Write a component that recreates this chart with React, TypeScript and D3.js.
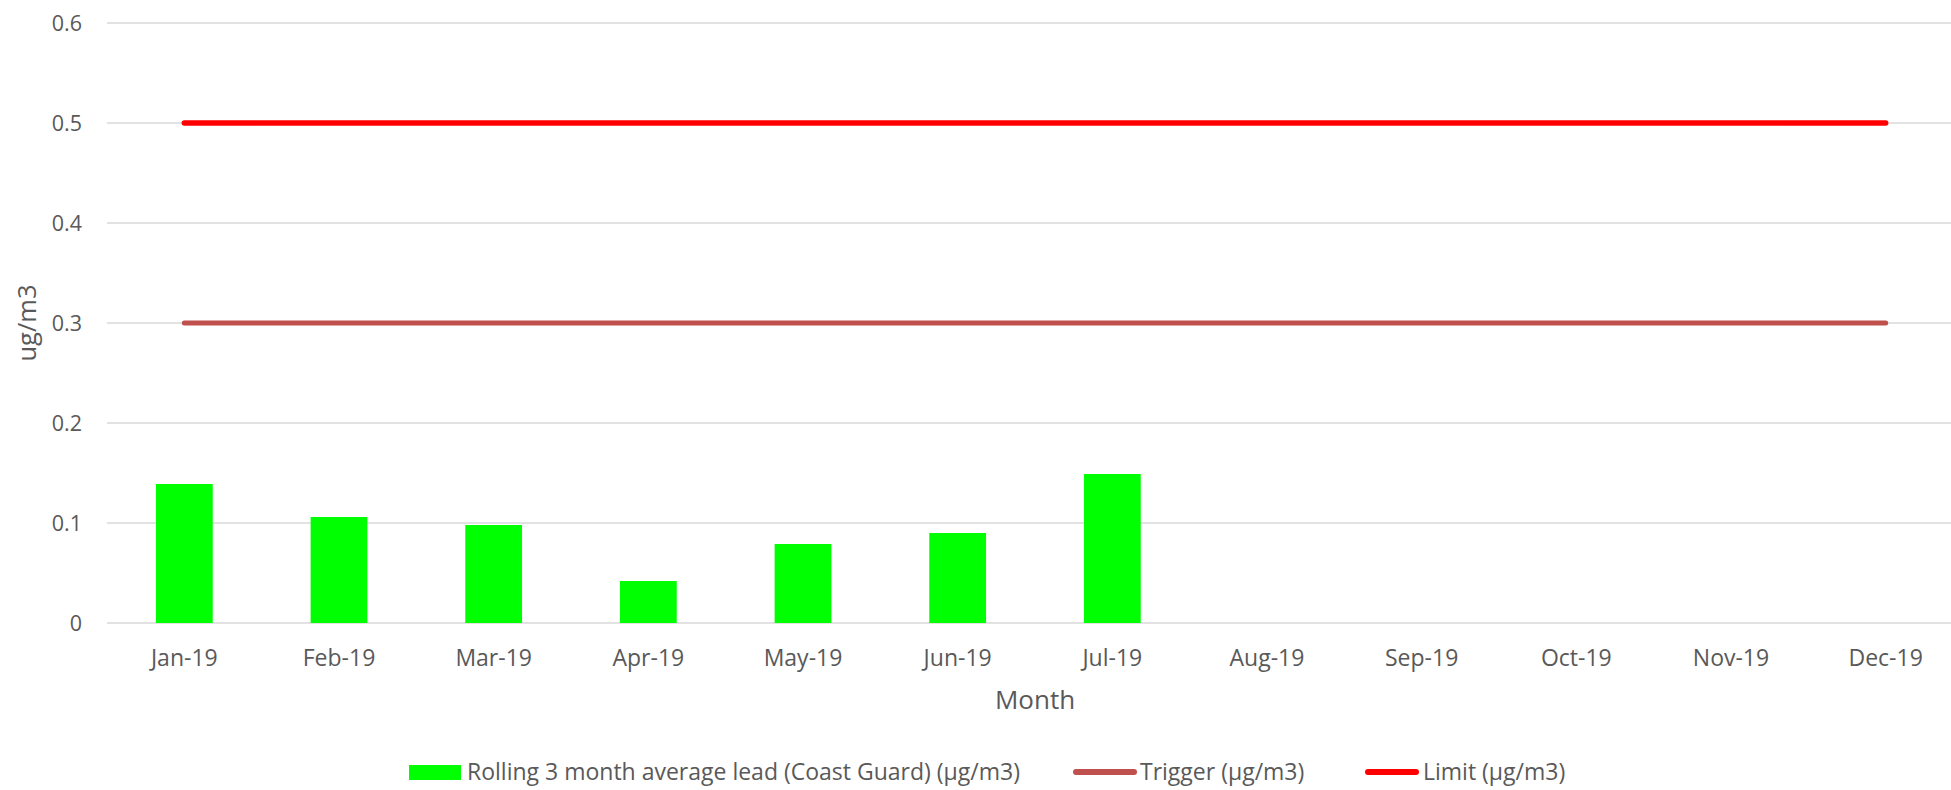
import React from "react";
import * as d3 from "d3";

const months = ["Jan-19","Feb-19","Mar-19","Apr-19","May-19","Jun-19","Jul-19","Aug-19","Sep-19","Oct-19","Nov-19","Dec-19"];
const leadValues: (number | null)[] = [0.139, 0.106, 0.098, 0.042, 0.079, 0.090, 0.149, null, null, null, null, null];
const triggerValues = [0.3,0.3,0.3,0.3,0.3,0.3,0.3,0.3,0.3,0.3,0.3,0.3];
const limitValues = [0.5,0.5,0.5,0.5,0.5,0.5,0.5,0.5,0.5,0.5,0.5,0.5];
const yTicks = [0, 0.1, 0.2, 0.3, 0.4, 0.5, 0.6];

const W = 1951, H = 790;
const FONT = "'Open Sans', 'Noto Sans', sans-serif";
const TEXT = "#595959";

export default function App() {
  const left = 107, right = 1963, top = 23, bottom = 623;
  const x = d3.scaleBand<string>().domain(months).range([left, right]).paddingInner(0.633).paddingOuter(0.3165);
  const xc = (m: string) => (x(m) as number) + x.bandwidth() / 2;
  const y = d3.scaleLinear().domain([0, 0.6]).range([bottom, top]);
  const line = d3.line<number>().x((_, i) => xc(months[i])).y(d => y(d));

  return (
    <svg width={W} height={H} style={{ position: "absolute", left: 0, top: 0, background: "#fff" }} fontFamily={FONT}>
      <rect x={0} y={0} width={W} height={H} fill="#fff" />
      {yTicks.map(t => (
        <g key={t}>
          <line x1={left} x2={W} y1={y(t)} y2={y(t)} stroke="#D9D9D9" strokeWidth={1.5} />
          <text x={82} y={y(t)} dy="0.35em" textAnchor="end" fontSize={21.5} fill={TEXT}>{t === 0 ? "0" : t.toFixed(1)}</text>
        </g>
      ))}
      {leadValues.map((v, i) => v == null ? null : (
        <rect key={i} x={x(months[i])} y={y(v)} width={x.bandwidth()} height={y(0) - y(v)} fill="#00FF00" />
      ))}
      <path d={line(triggerValues) || ""} fill="none" stroke="#C0504D" strokeWidth={5} strokeLinecap="round" />
      <path d={line(limitValues) || ""} fill="none" stroke="#FF0000" strokeWidth={5.5} strokeLinecap="round" />
      {months.map(m => (
        <text key={m} x={xc(m)} y={666} textAnchor="middle" fontSize={23} fill={TEXT}>{m}</text>
      ))}
      <text x={1035} y={709} textAnchor="middle" fontSize={26} fill={TEXT}>Month</text>
      <text transform={`translate(36,323) rotate(-90)`} textAnchor="middle" fontSize={25.5} fill={TEXT}>ug/m3</text>
      <rect x={409} y={765} width={52} height={15} fill="#00FF00" />
      <text x={467} y={780} fontSize={23} fill={TEXT}>Rolling 3 month average lead (Coast Guard) (μg/m3)</text>
      <line x1={1076} x2={1134} y1={772} y2={772} stroke="#C0504D" strokeWidth={6} strokeLinecap="round" />
      <text x={1140} y={780} fontSize={23} fill={TEXT}>Trigger (μg/m3)</text>
      <line x1={1368} x2={1416} y1={772} y2={772} stroke="#FF0000" strokeWidth={6} strokeLinecap="round" />
      <text x={1423} y={780} fontSize={23} fill={TEXT}>Limit (μg/m3)</text>
    </svg>
  );
}
